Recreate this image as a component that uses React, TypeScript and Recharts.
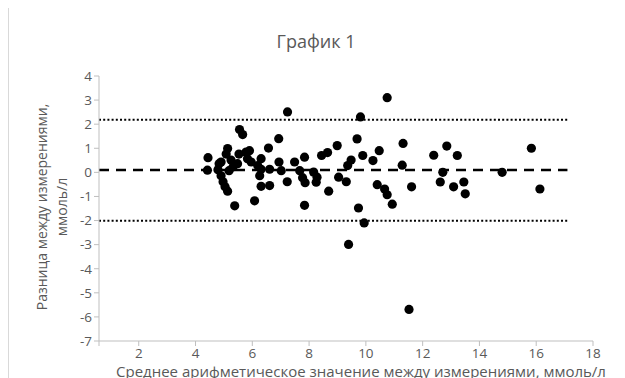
import { ScatterChart, Scatter, XAxis, YAxis, ReferenceLine } from "recharts";

// среднее двух измерений, ммоль/л
const meanValues = [
  4.44, 4.42, 4.83, 4.9, 4.97, 5.04, 5.13, 4.79, 4.9, 5.13,
  5.08, 5.25, 5.32, 5.18, 5.48, 5.53, 5.78, 5.9, 5.83, 5.96,
  5.55, 5.66, 5.38, 6.08, 6.57, 6.93, 6.31, 6.19, 6.31, 6.61,
  6.94, 7.02, 7.23, 6.26, 6.31, 6.61, 7.49, 7.84, 7.67, 7.77,
  7.86, 7.84, 7.24, 8.16, 8.28, 8.25, 8.44, 8.65, 8.99, 9.04,
  9.31, 8.69, 9.48, 9.36, 9.69, 9.81, 9.89, 10.25, 10.47, 10.4,
  10.66, 10.75, 10.93, 9.74, 9.94, 9.39, 10.75, 11.31, 11.28, 11.61,
  12.39, 12.85, 13.22, 12.71, 12.62, 13.09, 13.45, 13.5, 14.8, 15.83,
  16.13, 11.52,
];

// разница между измерениями, ммоль/л
const diffValues = [
  0.61, 0.09, 0.36, -0.14, -0.39, -0.6, -0.78, 0.11, 0.43, 0.99,
  0.76, 0.51, 0.22, 0.07, 0.36, 0.76, 0.84, 0.9, 0.57, 0.43,
  1.78, 1.57, -1.39, -1.18, 1.01, 1.4, 0.57, 0.28, 0.13, 0.13,
  0.43, 0.07, -0.39, -0.14, -0.58, -0.55, 0.43, 0.63, 0.07, -0.22,
  -0.43, -1.37, 2.51, 0.01, -0.2, -0.41, 0.7, 0.82, 1.11, -0.2,
  -0.39, -0.78, 0.51, 0.28, 1.39, 2.3, 0.7, 0.49, 0.9, -0.51,
  -0.69, -0.93, -1.32, -1.48, -2.1, -2.99, 3.1, 1.2, 0.3, -0.6,
  0.71, 1.09, 0.7, 0, -0.4, -0.6, -0.4, -0.89, 0, 1.0,
  -0.69, -5.69,
];

const xTicks = [0.6, 2, 4, 6, 8, 10, 12, 14, 16, 18];
const yTicks = [-7, -6, -5, -4, -3, -2, -1, 0, 1, 2, 3, 4];

const bias = 0.1;
const upperLimit = 2.18;
const lowerLimit = -2.01;
const lineFrom = 0.6;
const lineTo = 17.1;

const points = meanValues.map((x, i) => ({ x, y: diffValues[i] }));

const textColor = "#595959";
const axisColor = "#bfbfbf";
const font = "'Open Sans', 'Noto Sans', sans-serif";

const Dot = (props: any) => <circle cx={props.cx} cy={props.cy} r={4.6} fill="#000" />;

export default function App() {
  return (
    <div style={{ position: "relative", width: 617, height: 370, fontFamily: font, borderLeft: "1px solid #d9d9d9", overflow: "hidden" }}>
      <div style={{ position: "absolute", left: 0, width: 614, top: 21, textAlign: "center", fontSize: 18, color: textColor }}>
        График 1
      </div>
      <div
        style={{
          position: "absolute",
          left: 43,
          top: 199,
          width: 260,
          transform: "translate(-50%, -50%) rotate(-90deg)",
          textAlign: "center",
          fontSize: 14,
          lineHeight: "20px",
          color: textColor,
        }}
      >
        Разница между измерениями,
        <br />
        ммоль/л
      </div>
      <div style={{ position: "absolute", left: 92, width: 520, top: 353, textAlign: "center", fontSize: 15, color: textColor, whiteSpace: "nowrap" }}>
        Среднее арифметическое значение между измерениями, ммоль/л
      </div>
      <ScatterChart width={617} height={370} margin={{ top: 68, right: 33, left: 0, bottom: 0 }} style={{ position: "absolute", left: 0, top: 0 }}>
        <XAxis
          type="number"
          dataKey="x"
          domain={[0.6, 18]}
          ticks={xTicks}
          tickFormatter={(v: number) => (v === 0.6 ? "" : String(v))}
          height={37}
          stroke={axisColor}
          tickSize={5}
          tick={{ fill: textColor, fontSize: 13.5, fontFamily: font }}
          allowDataOverflow
        />
        <YAxis
          type="number"
          dataKey="y"
          domain={[-7, 4]}
          ticks={yTicks}
          width={90}
          stroke={axisColor}
          tickSize={5}
          tick={{ fill: textColor, fontSize: 13.5, fontFamily: font }}
          allowDataOverflow
        />
        <ReferenceLine
          segment={[{ x: lineFrom, y: upperLimit }, { x: lineTo, y: upperLimit }]}
          stroke="#000"
          strokeWidth={2}
          strokeDasharray="2 2.2"
        />
        <ReferenceLine
          segment={[{ x: lineFrom, y: lowerLimit }, { x: lineTo, y: lowerLimit }]}
          stroke="#000"
          strokeWidth={2}
          strokeDasharray="2 2.2"
        />
        <ReferenceLine
          segment={[{ x: lineFrom, y: bias }, { x: lineTo, y: bias }]}
          stroke="#000"
          strokeWidth={2.5}
          strokeDasharray="10 7"
        />
        <Scatter data={points} shape={Dot} isAnimationActive={false} />
      </ScatterChart>
    </div>
  );
}
